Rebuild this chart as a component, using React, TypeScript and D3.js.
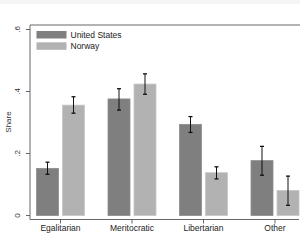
import React, { useEffect, useRef } from "react";
import * as d3 from "d3";

// categories and series
const categories = ["Egalitarian", "Meritocratic", "Libertarian", "Other"];
const seriesNames = ["United States", "Norway"];
const usValues = [0.152, 0.376, 0.294, 0.177];
const usLow = [0.133, 0.34, 0.268, 0.13];
const usHigh = [0.172, 0.409, 0.319, 0.223];
const noValues = [0.356, 0.424, 0.138, 0.081];
const noLow = [0.33, 0.391, 0.118, 0.033];
const noHigh = [0.383, 0.457, 0.157, 0.127];
const yTicks = [0, 0.2, 0.4, 0.6];
const yTickLabels = ["0", ".2", ".4", ".6"];

const colors = ["#7f7f7f", "#b2b2b2"];

const App = () => {
  const svgRef = useRef<SVGSVGElement>(null);
  const width = 300;
  const height = 243;

  useEffect(() => {
    const svg = d3.select(svgRef.current);
    svg.selectAll("*").remove();
    const font = "'Liberation Sans', Arial, sans-serif";

    svg.append("rect").attr("width", width).attr("height", 4).attr("fill", "#f5f5f5");

    const x = d3.scalePoint<string>().domain(categories).range([60.5, 275]);
    const y = d3.scaleLinear().domain([0, 0.6]).range([215.5, 29.5]);

    const barW = 22;
    const gap = 4;

    // frame lines
    svg.append("line").attr("x1", 30).attr("x2", 300).attr("y1", 25).attr("y2", 25)
      .attr("stroke", "#9a9a9a").attr("stroke-width", 1.3);
    svg.append("line").attr("x1", 30).attr("x2", 30).attr("y1", 25).attr("y2", 219.5)
      .attr("stroke", "#666").attr("stroke-width", 1);
    svg.append("line").attr("x1", 30).attr("x2", 299).attr("y1", 219.5).attr("y2", 219.5)
      .attr("stroke", "#666").attr("stroke-width", 1);

    // y ticks
    const yg = svg.append("g");
    yTicks.forEach((t, i) => {
      yg.append("line").attr("x1", 26).attr("x2", 30).attr("y1", y(t)).attr("y2", y(t))
        .attr("stroke", "#666");
      yg.append("text")
        .attr("transform", `translate(20, ${y(t)}) rotate(-90)`)
        .attr("text-anchor", "middle")
        .attr("font-family", font).attr("font-size", 8).attr("fill", "#333")
        .text(yTickLabels[i]);
    });
    svg.append("text")
      .attr("transform", `translate(11, 122) rotate(-90)`)
      .attr("text-anchor", "middle")
      .attr("font-family", font).attr("font-size", 8).attr("fill", "#333")
      .text("Share");

    // x ticks
    categories.forEach((c) => {
      svg.append("line").attr("x1", x(c)!).attr("x2", x(c)!).attr("y1", 219.5).attr("y2", 223.5)
        .attr("stroke", "#666");
      svg.append("text").attr("x", x(c)!).attr("y", 231)
        .attr("text-anchor", "middle")
        .attr("font-family", font).attr("font-size", 8.5).attr("fill", "#222")
        .text(c);
    });

    const series = [
      { vals: usValues, lo: usLow, hi: usHigh, off: -gap / 2 - barW },
      { vals: noValues, lo: noLow, hi: noHigh, off: gap / 2 },
    ];

    series.forEach((s, si) => {
      const g = svg.append("g");
      g.selectAll("rect")
        .data(categories)
        .enter()
        .append("rect")
        .attr("x", (d) => x(d)! + s.off)
        .attr("y", (d, i) => y(s.vals[i]))
        .attr("width", barW)
        .attr("height", (d, i) => y(0) - y(s.vals[i]))
        .attr("fill", colors[si])
        .attr("stroke", d3.color(colors[si])!.brighter(0.3).toString())
        .attr("stroke-width", 0.8);

      categories.forEach((c, i) => {
        const cx = x(c)! + s.off + barW / 2;
        g.append("line").attr("x1", cx).attr("x2", cx).attr("y1", y(s.hi[i])).attr("y2", y(s.lo[i]))
          .attr("stroke", "#111").attr("stroke-width", 1);
        [s.hi[i], s.lo[i]].forEach((v) => {
          g.append("line").attr("x1", cx - 2).attr("x2", cx + 2).attr("y1", y(v)).attr("y2", y(v))
            .attr("stroke", "#111").attr("stroke-width", 1.3);
        });
      });
    });

    // legend
    const lg = svg.append("g");
    seriesNames.forEach((n, i) => {
      lg.append("rect").attr("x", 36.5).attr("y", 31 + i * 11.3).attr("width", 30).attr("height", 7.5)
        .attr("fill", colors[i]);
      lg.append("text").attr("x", 70.5).attr("y", 37.8 + i * 11.3)
        .attr("font-family", font).attr("font-size", 8.5).attr("fill", "#222")
        .text(n);
    });
  }, []);

  return (
    <svg
      ref={svgRef}
      width={width}
      height={height}
      style={{ position: "absolute", left: 0, top: 0, background: "#fff" }}
    />
  );
};

export default App;
